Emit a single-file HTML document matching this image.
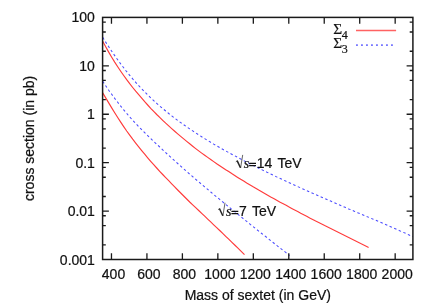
<!DOCTYPE html>
<html><head><meta charset="utf-8"><title>plot</title>
<style>
html,body{margin:0;padding:0;background:#fff;}
body{width:434px;height:305px;overflow:hidden;}
svg{display:block;filter:blur(0.3px);}
text{font-family:"Liberation Sans",sans-serif;font-size:14px;fill:#111;stroke:#111;stroke-width:0.22px;}
.se{font-family:"Liberation Serif",serif;}
</style></head><body>
<svg width="434" height="305" viewBox="0 0 434 305">
<rect width="434" height="305" fill="#fff"/>
<polyline fill="none" stroke="#ff3a3a" stroke-width="1.15" points="102.7,41.2 105.7,46.8 108.7,52.1 111.7,57.2 114.7,62.1 117.7,66.7 120.7,71.2 123.7,75.5 126.7,79.7 129.7,83.7 132.7,87.5 135.7,91.2 138.7,94.7 141.7,98.2 144.7,101.7 147.7,105.0 150.7,108.3 153.7,111.4 156.7,114.5 159.7,117.4 162.7,120.3 165.7,123.2 168.7,125.9 171.7,128.6 174.7,131.3 177.7,133.9 180.7,136.4 183.7,138.9 186.7,141.4 189.7,143.8 192.7,146.2 195.7,148.6 198.7,150.9 201.7,153.1 204.7,155.3 207.7,157.4 210.7,159.5 213.7,161.6 216.7,163.7 219.7,165.7 222.7,167.7 225.7,169.7 228.7,171.6 231.7,173.6 234.7,175.5 237.7,177.4 240.7,179.3 243.7,181.1 246.7,183.0 249.7,184.8 252.7,186.6 255.7,188.3 258.7,190.1 261.7,191.8 264.7,193.5 267.7,195.2 270.7,196.9 273.7,198.5 276.7,200.2 279.7,201.9 282.7,203.5 285.7,205.1 288.7,206.8 291.7,208.4 294.7,210.0 297.7,211.6 300.7,213.2 303.7,214.7 306.7,216.3 309.7,217.9 312.7,219.4 315.7,221.0 318.7,222.5 321.7,224.0 324.7,225.6 327.7,227.1 330.7,228.6 333.7,230.1 336.7,231.6 339.7,233.1 342.7,234.6 345.7,236.1 348.7,237.6 351.7,239.1 354.7,240.6 357.7,242.1 360.7,243.6 363.7,245.0 366.7,246.5 368.6,247.4"/>
<polyline fill="none" stroke="#ff3a3a" stroke-width="1.15" points="102.7,92.9 105.7,97.9 108.7,102.9 111.7,107.9 114.7,112.7 117.7,117.5 120.7,122.1 123.7,126.6 126.7,131.0 129.7,135.1 132.7,139.2 135.7,143.1 138.7,146.9 141.7,150.6 144.7,154.2 147.7,157.8 150.7,161.3 153.7,164.7 156.7,168.0 159.7,171.3 162.7,174.5 165.7,177.6 168.7,180.7 171.7,183.8 174.7,186.9 177.7,190.0 180.7,193.0 183.7,196.0 186.7,199.0 189.7,202.0 192.7,204.8 195.7,207.7 198.7,210.5 201.7,213.4 204.7,216.2 207.7,219.1 210.7,221.9 213.7,224.8 216.7,227.6 219.7,230.5 222.7,233.4 225.7,236.3 228.7,239.2 231.7,242.1 234.7,245.0 237.7,247.9 240.7,250.9 243.7,253.9 244.5,254.7"/>
<polyline fill="none" stroke="#4a4aff" stroke-width="1.05" stroke-dasharray="2.5 2.5" points="102.7,37.4 105.7,42.1 108.7,46.7 111.7,51.2 114.7,55.6 117.7,59.8 120.7,63.9 123.7,67.8 126.7,71.7 129.7,75.3 132.7,78.9 135.7,82.3 138.7,85.6 141.7,88.8 144.7,91.9 147.7,94.9 150.7,97.8 153.7,100.6 156.7,103.3 159.7,106.0 162.7,108.5 165.7,111.0 168.7,113.5 171.7,115.8 174.7,118.1 177.7,120.4 180.7,122.6 183.7,124.7 186.7,126.9 189.7,128.9 192.7,130.9 195.7,132.9 198.7,134.9 201.7,136.8 204.7,138.6 207.7,140.5 210.7,142.3 213.7,144.1 216.7,145.8 219.7,147.5 222.7,149.3 225.7,150.9 228.7,152.6 231.7,154.2 234.7,155.8 237.7,157.4 240.7,159.0 243.7,160.6 246.7,162.1 249.7,163.7 252.7,165.2 255.7,166.7 258.7,168.2 261.7,169.6 264.7,171.1 267.7,172.6 270.7,174.0 273.7,175.4 276.7,176.9 279.7,178.3 282.7,179.7 285.7,181.1 288.7,182.4 291.7,183.8 294.7,185.2 297.7,186.6 300.7,187.9 303.7,189.3 306.7,190.6 309.7,191.9 312.7,193.3 315.7,194.6 318.7,195.9 321.7,197.2 324.7,198.5 327.7,199.8 330.7,201.1 333.7,202.4 336.7,203.7 339.7,205.0 342.7,206.3 345.7,207.6 348.7,208.9 351.7,210.1 354.7,211.4 357.7,212.7 360.7,213.9 363.7,215.2 366.7,216.5 369.7,217.7 372.7,219.0 375.7,220.2 378.7,221.5 381.7,222.8 384.7,224.1 387.7,225.4 390.7,226.8 393.7,228.1 396.7,229.4 399.7,230.8 402.7,232.1 405.7,233.4 408.7,234.8 411.7,236.1 412.9,236.6"/>
<polyline fill="none" stroke="#4a4aff" stroke-width="1.05" stroke-dasharray="2.5 2.5" points="102.7,81.3 105.7,85.8 108.7,90.2 111.7,94.3 114.7,98.4 117.7,102.3 120.7,106.1 123.7,109.8 126.7,113.4 129.7,116.9 132.7,120.3 135.7,123.5 138.7,126.6 141.7,129.7 144.7,132.7 147.7,135.6 150.7,138.5 153.7,141.4 156.7,144.2 159.7,147.0 162.7,149.8 165.7,152.6 168.7,155.4 171.7,158.1 174.7,160.8 177.7,163.5 180.7,166.2 183.7,168.8 186.7,171.5 189.7,174.1 192.7,176.7 195.7,179.3 198.7,181.8 201.7,184.4 204.7,186.9 207.7,189.4 210.7,192.0 213.7,194.5 216.7,197.0 219.7,199.4 222.7,201.9 225.7,204.4 228.7,206.8 231.7,209.3 234.7,211.7 237.7,214.2 240.7,216.6 243.7,219.0 246.7,221.4 249.7,223.9 252.7,226.3 255.7,228.7 258.7,231.1 261.7,233.5 264.7,235.8 267.7,238.2 270.7,240.6 273.7,243.0 276.7,245.3 279.7,247.7 282.7,250.1 285.7,252.4 288.7,254.8 289.6,255.5"/>
<path d="M111.47 259.5 v-6.3 M111.47 17.4 v6.3 M146.93 259.5 v-6.3 M146.93 17.4 v6.3 M182.39 259.5 v-6.3 M182.39 17.4 v6.3 M217.85 259.5 v-6.3 M217.85 17.4 v6.3 M253.32 259.5 v-6.3 M253.32 17.4 v6.3 M288.78 259.5 v-6.3 M288.78 17.4 v6.3 M324.24 259.5 v-6.3 M324.24 17.4 v6.3 M359.71 259.5 v-6.3 M359.71 17.4 v6.3 M395.17 259.5 v-6.3 M395.17 17.4 v6.3 M102.6 244.92 h3.2 M412.9 244.92 h-3.2 M102.6 225.66 h3.2 M412.9 225.66 h-3.2 M102.6 215.77 h3.2 M412.9 215.77 h-3.2 M102.6 211.08 h6.3 M412.9 211.08 h-6.3 M102.6 196.50 h3.2 M412.9 196.50 h-3.2 M102.6 177.24 h3.2 M412.9 177.24 h-3.2 M102.6 167.35 h3.2 M412.9 167.35 h-3.2 M102.6 162.66 h6.3 M412.9 162.66 h-6.3 M102.6 148.08 h3.2 M412.9 148.08 h-3.2 M102.6 128.82 h3.2 M412.9 128.82 h-3.2 M102.6 118.93 h3.2 M412.9 118.93 h-3.2 M102.6 114.24 h6.3 M412.9 114.24 h-6.3 M102.6 99.66 h3.2 M412.9 99.66 h-3.2 M102.6 80.40 h3.2 M412.9 80.40 h-3.2 M102.6 70.51 h3.2 M412.9 70.51 h-3.2 M102.6 65.82 h6.3 M412.9 65.82 h-6.3 M102.6 51.24 h3.2 M412.9 51.24 h-3.2 M102.6 31.98 h3.2 M412.9 31.98 h-3.2 M102.6 22.09 h3.2 M412.9 22.09 h-3.2" stroke="#1a1a1a" stroke-width="1.3" fill="none"/>
<rect x="102.6" y="17.4" width="310.30" height="242.10" fill="none" stroke="#1a1a1a" stroke-width="1.5"/>
<text x="94.9" y="264.5" text-anchor="end">0.001</text>
<text x="94.9" y="216.1" text-anchor="end">0.01</text>
<text x="94.9" y="167.7" text-anchor="end">0.1</text>
<text x="94.9" y="119.2" text-anchor="end">1</text>
<text x="94.9" y="70.8" text-anchor="end">10</text>
<text x="94.9" y="22.4" text-anchor="end">100</text>
<text x="113.5" y="278.8" text-anchor="middle">400</text>
<text x="148.9" y="278.8" text-anchor="middle">600</text>
<text x="184.4" y="278.8" text-anchor="middle">800</text>
<text x="219.9" y="278.8" text-anchor="middle">1000</text>
<text x="255.3" y="278.8" text-anchor="middle">1200</text>
<text x="290.8" y="278.8" text-anchor="middle">1400</text>
<text x="326.2" y="278.8" text-anchor="middle">1600</text>
<text x="361.7" y="278.8" text-anchor="middle">1800</text>
<text x="397.2" y="278.8" text-anchor="middle">2000</text>
<text x="257.8" y="299.9" text-anchor="middle">Mass of sextet (in GeV)</text>
<text transform="translate(33.7 138.4) rotate(-90)" text-anchor="middle">cross section (in pb)</text>
<path d="M235.80 161.80 L237.30 160.70" stroke="#222" stroke-width="0.7" fill="none"/><path d="M237.10 160.60 L240.50 167.80" stroke="#222" stroke-width="1.5" fill="none"/><path d="M240.60 168.00 L242.70 154.90" stroke="#222" stroke-width="0.7" fill="none"/><text x="243.70" y="167.7" class="se" font-style="italic">s</text><path d="M249.10 163.40 h6.9 M249.10 165.70 h6.9" stroke="#111" stroke-width="1.25" fill="none"/><text x="256.70" y="167.7" style="word-spacing:1.5px">14 TeV</text>
<path d="M218.10 209.70 L219.60 208.60" stroke="#222" stroke-width="0.7" fill="none"/><path d="M219.40 208.50 L222.80 215.70" stroke="#222" stroke-width="1.5" fill="none"/><path d="M222.90 215.90 L225.00 202.80" stroke="#222" stroke-width="0.7" fill="none"/><text x="226.00" y="215.6" class="se" font-style="italic">s</text><path d="M231.40 211.30 h6.9 M231.40 213.60 h6.9" stroke="#111" stroke-width="1.25" fill="none"/><text x="239.00" y="215.6" style="word-spacing:1.5px">7 TeV</text>
<text x="333.3" y="33.5" class="se" style="font-size:15.3px">&#931;</text><text x="341.8" y="38.7" class="se" style="font-size:12px">4</text>
<text x="333.3" y="47.5" class="se" style="font-size:15.3px">&#931;</text><text x="341.8" y="53.1" class="se" style="font-size:12px">3</text>
<path d="M356 30.6 H396.1" stroke="#ff6262" stroke-width="1.5" fill="none"/>
<path d="M356 45.1 H394" stroke="#7878ff" stroke-width="1.9" stroke-dasharray="1.9 3.1" fill="none"/>
</svg>
</body></html>
